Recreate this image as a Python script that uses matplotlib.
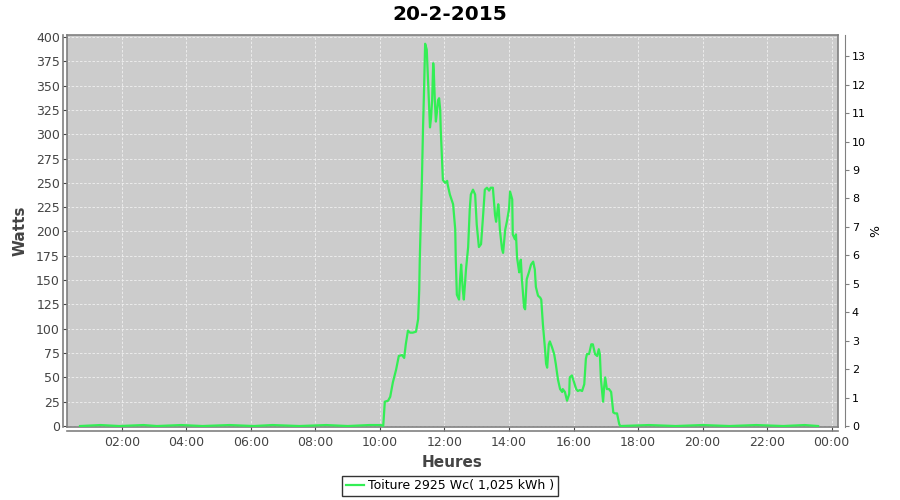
import matplotlib
matplotlib.use("Agg")
import matplotlib.pyplot as plt

# data (time of day, watts)
times = ["00:42", "01:20", "01:55", "02:40", "03:05", "03:50", "04:30", "05:20",
         "06:05", "06:40", "07:30", "08:20", "09:00", "09:40", "10:02", "10:06",
         "10:09", "10:15", "10:19", "10:24", "10:30", "10:35", "10:41", "10:45",
         "10:48", "10:52", "10:56", "11:01", "11:07", "11:11", "11:13", "11:14",
         "11:16", "11:18", "11:20", "11:22", "11:24", "11:27", "11:29", "11:33",
         "11:35", "11:37", "11:39", "11:40", "11:42", "11:44", "11:46", "11:48",
         "11:50", "11:52", "11:53", "11:55", "11:57", "12:01", "12:05", "12:06",
         "12:10", "12:16", "12:20", "12:21", "12:23", "12:27", "12:29", "12:31",
         "12:34", "12:36", "12:40", "12:44", "12:47", "12:49", "12:53", "12:57",
         "13:00", "13:04", "13:08", "13:12", "13:15", "13:19", "13:23", "13:26",
         "13:30", "13:34", "13:36", "13:40", "13:41", "13:43", "13:47", "13:49",
         "13:53", "13:56", "14:00", "14:02", "14:06", "14:07", "14:11", "14:13",
         "14:15", "14:19", "14:20", "14:22", "14:24", "14:28", "14:30", "14:33",
         "14:37", "14:41", "14:45", "14:48", "14:50", "14:54", "14:58", "15:00",
         "15:03", "15:07", "15:09", "15:11", "15:14", "15:16", "15:20", "15:24",
         "15:27", "15:31", "15:35", "15:39", "15:40", "15:44", "15:48", "15:52",
         "15:53", "15:57", "16:01", "16:05", "16:08", "16:12", "16:16", "16:20",
         "16:23", "16:25", "16:29", "16:33", "16:36", "16:40", "16:44", "16:47",
         "16:49", "16:51", "16:55", "16:57", "16:59", "17:02", "17:06", "17:10",
         "17:14", "17:17", "17:21", "17:25", "17:27", "18:20", "19:10", "20:00",
         "20:50", "21:40", "22:30", "23:10", "23:35"]
watts = [0, 1, 0, 1, 0, 1, 0, 1,
         0, 1, 0, 1, 0, 1, 1, 0,
         25, 26, 30, 45, 58, 72, 73, 70,
         84, 98, 96, 96, 97, 110, 140, 171,
         212, 253, 305, 346, 393, 387, 361, 307,
         317, 335, 373, 366, 335, 313, 323, 335,
         337, 325, 305, 279, 253, 250, 252, 248,
         238, 228, 202, 171, 135, 130, 151, 166,
         140, 130, 161, 184, 223, 238, 243, 238,
         207, 184, 187, 218, 243, 245, 242, 245,
         245, 217, 210, 228, 223, 202, 182, 178,
         202, 210, 223, 241, 233, 197, 192, 197,
         173, 158, 166, 171, 151, 122, 120, 151,
         158, 166, 169, 161, 143, 134, 132, 130,
         105, 79, 64, 60, 84, 87, 81, 74,
         64, 48, 38, 35, 38, 35, 26, 33,
         50, 52, 45, 38, 36, 37, 36, 43,
         69, 74, 74, 84, 84, 74, 72, 79,
         74, 48, 25, 40, 50, 38, 38, 35,
         14, 13, 13, 2, 0, 1, 0, 1,
         0, 1, 0, 1, 0]

hour_ticks = [2, 4, 6, 8, 10, 12, 14, 16, 18, 20, 22, 24]
hour_labels = ["02:00", "04:00", "06:00", "08:00", "10:00", "12:00",
               "14:00", "16:00", "18:00", "20:00", "22:00", "00:00"]
peak_power = 2925

hours = [int(t[:2]) + int(t[3:]) / 60 for t in times]

plt.rcParams['font.family'] = 'DejaVu Sans'
fig = plt.figure(figsize=(9, 5), dpi=100)
ax = fig.add_axes([0.0744, 0.146, 0.8567, 0.784])
ax.set_facecolor('#cccccc')
ax.plot(hours, watts, color='#33ee55', lw=1.6, zorder=3,
        label="Toiture 2925 Wc( 1,025 kWh )")

ax.set_xlim(0.295, 24.2)
ax.set_ylim(-1, 402)
ax.set_xticks(hour_ticks)
ax.set_xticklabels(hour_labels)
ax.set_yticks(range(0, 401, 25))
ax.grid(True, color='#f0f0f0', ls=(0, (3, 2)), lw=0.6)
ax.set_axisbelow(True)
ax.tick_params(labelsize=9, colors='#444444', length=3, width=0.8)
ax.tick_params(axis='y', pad=2)
for s in ax.spines.values():
    s.set_color('#808080')
    s.set_linewidth(1.2)

# separate axis lines offset from plot box
ax2 = ax.twinx()
ax2.set_ylim(-1 / peak_power * 100, 402 / peak_power * 100)
ax2.set_yticks(range(0, 14))
ax2.tick_params(labelsize=8, colors='black', length=3, width=0.8, pad=2)
ax2.tick_params(axis='y', colors='#808080', labelcolor='black')
for s in ['top', 'bottom', 'left']:
    ax2.spines[s].set_visible(False)
ax2.spines['right'].set_position(('outward', 5))
ax2.spines['right'].set_color('#808080')
ax2.set_ylabel('%', fontsize=9, labelpad=2)

fig.add_artist(plt.Line2D([63 / 900, 63 / 900], [1 - 427 / 500, 1 - 35 / 500],
                          color='#808080', lw=1.2))
fig.add_artist(plt.Line2D([67 / 900, 838 / 900], [1 - 431 / 500, 1 - 431 / 500],
                          color='#808080', lw=1.2))

ax.set_xlabel('Heures', fontsize=11, fontweight='bold', color='#444444', labelpad=4)
ax.set_ylabel('Watts', fontsize=11, fontweight='bold', color='#444444', labelpad=6)
fig.suptitle('20-2-2015', fontsize=14.5, fontweight='bold', y=0.99)

leg = fig.legend(loc='lower center', bbox_to_anchor=(0.5, 0.0), fontsize=9,
                 fancybox=False, frameon=True, handlelength=1.5, handletextpad=0.3,
                 borderpad=0.3, borderaxespad=0.3)
leg.get_frame().set_edgecolor('black')
leg.get_frame().set_linewidth(1.0)

fig.savefig('out.png', dpi=100)
